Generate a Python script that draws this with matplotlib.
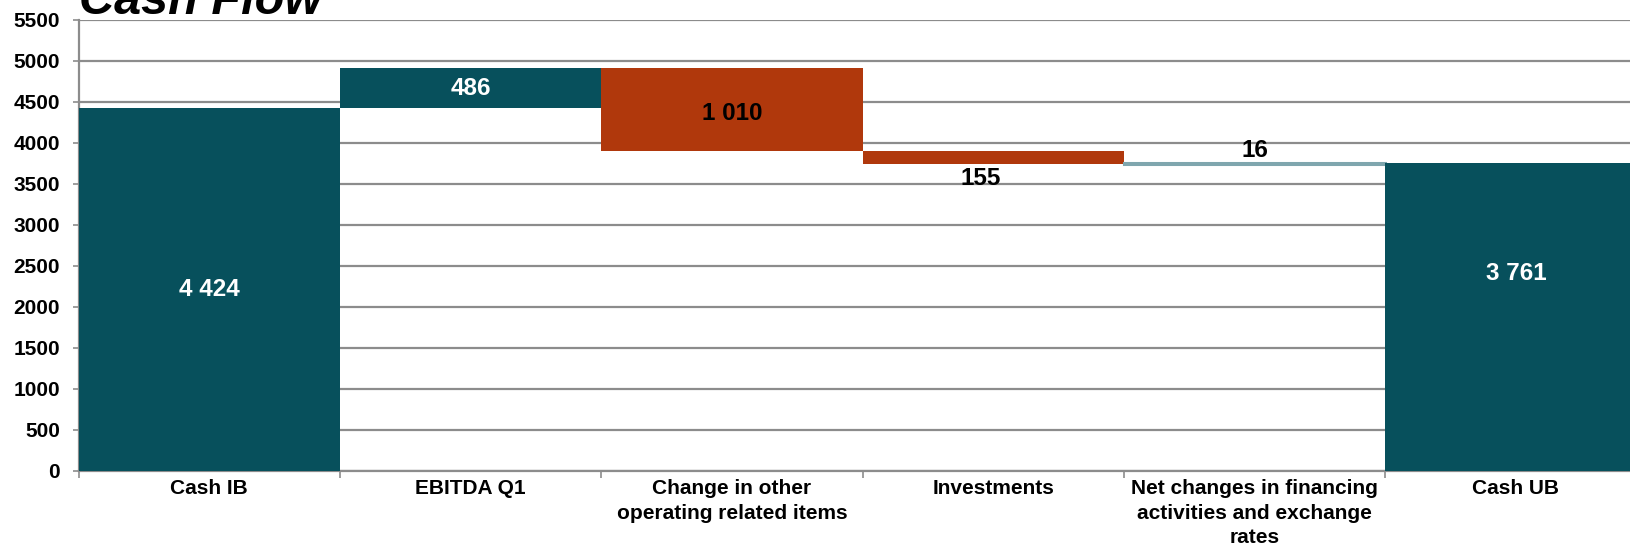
import numpy as np
import matplotlib.pyplot as plt

# waterfall data
categories = ["Cash IB", "EBITDA Q1", "Change in other\noperating related items",
              "Investments", "Net changes in financing\nactivities and exchange\nrates",
              "Cash UB"]
start_value = 4424
deltas = [486, -1010, -155, 16]
end_value = 3761
value_labels = ["4 424", "486", "1 010", "155", "16", "3 761"]

teal = "#07505c"
orange = "#b0380c"
light = "#7fa6ae"
grid_gray = "#8c8c8c"

plt.rcParams["font.family"] = ["Liberation Sans", "DejaVu Sans"]

fig = plt.figure(figsize=(16.31, 5.46), dpi=100)
ax = fig.add_axes([0.04825, 0.1374, 0.9613, 0.826])

# bottoms / heights for the floating bars
levels = np.cumsum([start_value] + deltas)
bottoms = [0]
heights = [start_value]
colors = [teal]
for i, d in enumerate(deltas):
    lo = min(levels[i], levels[i + 1])
    bottoms.append(lo)
    heights.append(abs(d))
    if i == 0:
        colors.append(teal)
    elif d < 0:
        colors.append(orange)
    else:
        colors.append(light)
bottoms.append(0)
heights.append(end_value)
colors.append(teal)

x = np.arange(len(categories))
bars = ax.bar(x, heights, bottom=bottoms, width=1.0, color=colors, zorder=3)
# the tiny +16 step gets a thicker outline so it stays visible
bars[4].set_edgecolor(light)
bars[4].set_linewidth(2.2)

# value labels
txt_kw = dict(fontsize=17.5, fontweight="bold", ha="center", zorder=5)
for i, b in enumerate(bars):
    cx = b.get_x() + b.get_width() / 2
    mid = bottoms[i] + heights[i] / 2
    if i in (0, 1):
        ax.text(cx, mid, value_labels[i], color="white", va="center", **txt_kw)
    elif i == 5:
        ax.text(cx, mid + 530, value_labels[i], color="white", va="center", **txt_kw)
    elif i == 2:
        ax.text(cx, mid - 40, value_labels[i], color="black", va="center", **txt_kw)
    elif i == 3:
        ax.text(cx - 0.05, bottoms[i] - 40, value_labels[i], color="black", va="top", **txt_kw)
    else:
        ax.text(cx, bottoms[i] + heights[i] + 10, value_labels[i], color="black",
                va="bottom", **txt_kw)

ax.set_xlim(-0.5, len(categories) - 0.5)
ax.set_ylim(0, 5500)
ax.set_yticks(np.arange(0, 5501, 500))
ax.yaxis.grid(True, color=grid_gray, linewidth=1.6, zorder=0)
ax.set_axisbelow(True)

ax.set_xticks(x)
ax.set_xticklabels(categories, fontsize=15, fontweight="bold", linespacing=1.35)
ax.set_xticks(np.arange(-0.5, len(categories)), minor=True)
ax.tick_params(axis="x", which="major", length=0, pad=6)
ax.tick_params(axis="x", which="minor", length=5, width=1.2, color=grid_gray)
ax.tick_params(axis="y", length=4.3, width=1.2, color=grid_gray, pad=9, labelsize=15)
for lab in ax.get_yticklabels():
    lab.set_fontweight("bold")

for s in ("top", "right"):
    ax.spines[s].set_visible(False)
ax.spines["left"].set_color(grid_gray)
ax.spines["left"].set_linewidth(1.6)
ax.spines["bottom"].set_color(grid_gray)
ax.spines["bottom"].set_linewidth(1.6)

fig.text(0.0482, 1 - 14 / 546, "Cash Flow", fontsize=35, fontweight="bold",
         fontstyle="italic", ha="left", va="baseline")

fig.savefig("out.png", dpi=100)
